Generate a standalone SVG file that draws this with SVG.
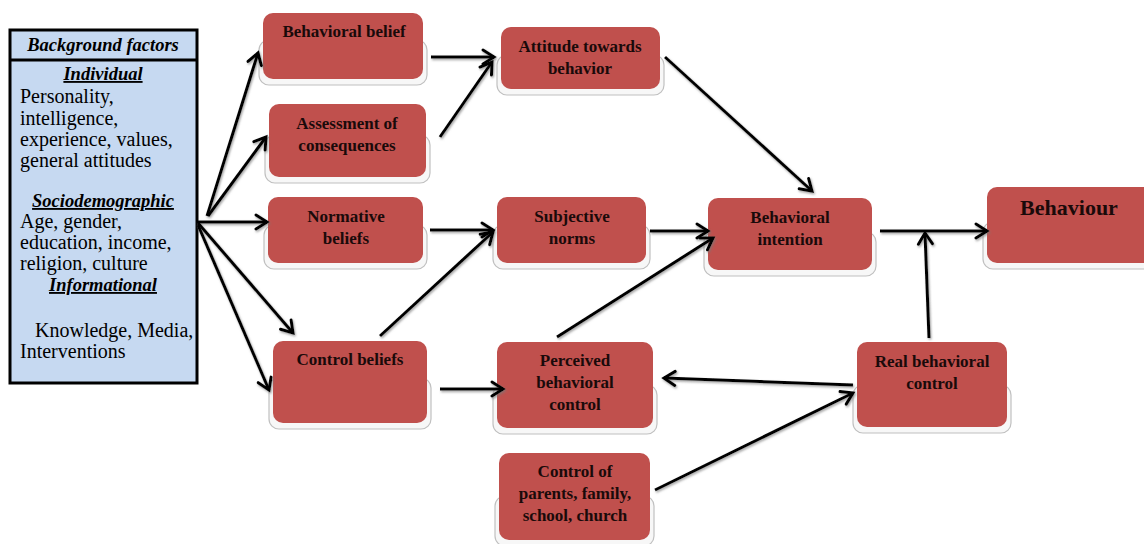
<svg xmlns="http://www.w3.org/2000/svg" width="1144" height="544" viewBox="0 0 1144 544">
<style>
.bg{fill:#c6d9f1;stroke:#000;stroke-width:3}
.hd{font-family:'Liberation Serif','Times New Roman','DejaVu Serif',serif;font-weight:bold;font-style:italic;font-size:18.5px;fill:#000}
.sub{font-family:'Liberation Serif','Times New Roman','DejaVu Serif',serif;font-weight:bold;font-style:italic;font-size:18.5px;fill:#000;text-decoration:underline}
.bt{font-family:'Liberation Serif','Times New Roman','DejaVu Serif',serif;font-size:20px;fill:#000}
.sh{fill:#f7f7f7;stroke:#c0c0c0;stroke-width:1.2}
.nd{fill:#c0504d}
.nt{font-family:'Liberation Serif','Times New Roman','DejaVu Serif',serif;font-weight:bold;font-size:17px;fill:#1a0a0a;text-anchor:middle}
.big{font-size:22px}
.cn{stroke:#000;stroke-width:3;fill:none;marker-end:url(#ah)}
</style>
<defs>
<marker id="ah" markerUnits="userSpaceOnUse" markerWidth="20" markerHeight="20" refX="13" refY="8" orient="auto" viewBox="0 0 20 16">
<path d="M2,1 L13,8 L2,15" fill="none" stroke="#000" stroke-width="3" stroke-linecap="round" stroke-linejoin="miter"/>
</marker>
<filter id="ds" x="-10%" y="-10%" width="120%" height="120%">
<feDropShadow dx="1" dy="1.5" stdDeviation="0.8" flood-color="#777" flood-opacity="0.7"/>
</filter>
</defs>

<g id="background-factors">
<rect class="bg" x="10" y="30" width="187" height="353"/>
<line x1="10" y1="60" x2="197" y2="60" stroke="#000" stroke-width="3"/>
<text class="hd" x="103" y="51" text-anchor="middle">Background factors</text>
<text class="sub" x="103" y="80" text-anchor="middle">Individual</text>
<text class="bt" x="20" y="103">Personality,</text>
<text class="bt" x="20" y="125">intelligence,</text>
<text class="bt" x="20" y="146">experience, values,</text>
<text class="bt" x="20" y="167">general attitudes</text>
<text class="sub" x="103" y="207" text-anchor="middle">Sociodemographic</text>
<text class="bt" x="20" y="228">Age, gender,</text>
<text class="bt" x="20" y="249">education, income,</text>
<text class="bt" x="20" y="270">religion, culture</text>
<text class="sub" x="103" y="291" text-anchor="middle">Informational</text>
<text class="bt" x="35" y="337">Knowledge, Media,</text>
<text class="bt" x="20" y="358">Interventions</text>
</g>

<g id="behavioral-belief">
<rect class="sh" x="259" y="40" width="168" height="45" rx="10"/>
<rect class="nd" x="263" y="13" width="160" height="66" rx="10"/>
<text class="nt" x="344" y="37">Behavioral belief</text>
</g>

<g id="assessment-of-consequences">
<rect class="sh" x="265" y="135" width="165" height="48" rx="10"/>
<rect class="nd" x="269" y="104" width="157" height="73" rx="10"/>
<text class="nt" x="347" y="129">Assessment of</text>
<text class="nt" x="347" y="151">consequences</text>
</g>

<g id="attitude-towards-behavior">
<rect class="sh" x="497" y="55" width="167" height="40" rx="10"/>
<rect class="nd" x="501" y="27" width="159" height="62" rx="10"/>
<text class="nt" x="580" y="52">Attitude towards</text>
<text class="nt" x="580" y="74">behavior</text>
</g>

<g id="normative-beliefs">
<rect class="sh" x="264" y="225" width="163" height="44" rx="10"/>
<rect class="nd" x="268" y="197" width="155" height="66" rx="10"/>
<text class="nt" x="346" y="222">Normative</text>
<text class="nt" x="346" y="244">beliefs</text>
</g>

<g id="subjective-norms">
<rect class="sh" x="493" y="225" width="157" height="44" rx="10"/>
<rect class="nd" x="497" y="197" width="149" height="66" rx="10"/>
<text class="nt" x="572" y="222">Subjective</text>
<text class="nt" x="572" y="244">norms</text>
</g>

<g id="control-beliefs">
<rect class="sh" x="269" y="378" width="162" height="51" rx="10"/>
<rect class="nd" x="273" y="341" width="154" height="82" rx="10"/>
<text class="nt" x="350" y="365">Control beliefs</text>
</g>

<g id="perceived-behavioral-control">
<rect class="sh" x="493" y="385" width="164" height="49" rx="10"/>
<rect class="nd" x="497" y="342" width="156" height="86" rx="10"/>
<text class="nt" x="575" y="366">Perceived</text>
<text class="nt" x="575" y="388">behavioral</text>
<text class="nt" x="575" y="410">control</text>
</g>

<g id="behavioral-intention">
<rect class="sh" x="704" y="232" width="172" height="44" rx="10"/>
<rect class="nd" x="708" y="198" width="164" height="72" rx="10"/>
<text class="nt" x="790" y="223">Behavioral</text>
<text class="nt" x="790" y="245">intention</text>
</g>

<g id="behaviour">
<rect class="sh" x="983" y="222" width="180" height="47" rx="10"/>
<rect class="nd" x="987" y="187" width="170" height="76" rx="10"/>
<text class="nt big" x="1069" y="215">Behaviour</text>
</g>

<g id="real-behavioral-control">
<rect class="sh" x="853" y="385" width="158" height="48" rx="10"/>
<rect class="nd" x="857" y="342" width="150" height="85" rx="10"/>
<text class="nt" x="932" y="367">Real behavioral</text>
<text class="nt" x="932" y="389">control</text>
</g>

<g id="control-of-parents">
<rect class="sh" x="495" y="496" width="159" height="50" rx="10"/>
<rect class="nd" x="499" y="453" width="151" height="87" rx="10"/>
<text class="nt" x="575" y="477">Control of</text>
<text class="nt" x="575" y="499">parents, family,</text>
<text class="nt" x="575" y="521">school, church</text>
</g>

<g id="connectors" filter="url(#ds)">
<line class="cn" x1="207" y1="216" x2="258" y2="53"/>
<line class="cn" x1="208" y1="216" x2="266" y2="137"/>
<line class="cn" x1="197" y1="222" x2="267" y2="222"/>
<line class="cn" x1="198" y1="223" x2="293" y2="333"/>
<line class="cn" x1="198" y1="225" x2="269" y2="390"/>
<line class="cn" x1="431" y1="57" x2="494" y2="57"/>
<line class="cn" x1="440" y1="137" x2="492" y2="62"/>
<line class="cn" x1="665" y1="57" x2="812" y2="191"/>
<line class="cn" x1="430" y1="230" x2="493" y2="230"/>
<line class="cn" x1="380" y1="336" x2="493" y2="232"/>
<line class="cn" x1="440" y1="389" x2="503" y2="389"/>
<line class="cn" x1="650" y1="231" x2="708" y2="231"/>
<line class="cn" x1="557" y1="337" x2="713" y2="238"/>
<line class="cn" x1="880" y1="231" x2="987" y2="231"/>
<line class="cn" x1="929" y1="338" x2="925" y2="233"/>
<line class="cn" x1="853" y1="385" x2="664" y2="378"/>
<line class="cn" x1="655" y1="490" x2="853" y2="393"/>
</g>
</svg>
